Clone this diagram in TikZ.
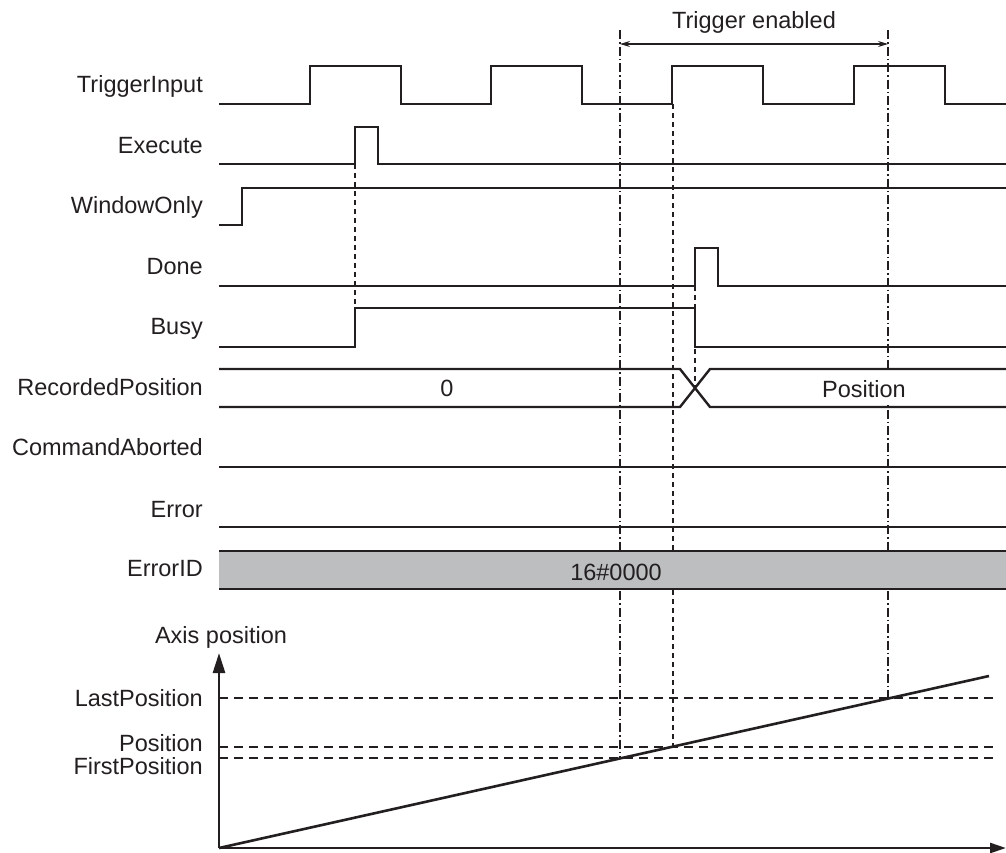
\documentclass[tikz,border=0pt]{standalone}
\usepackage{fontspec}
\setmainfont{Liberation Sans}
\usetikzlibrary{arrows.meta,positioning,calc}
\definecolor{tcInk}{HTML}{231F20}
\definecolor{tcGrey}{HTML}{BCBEC0}

\begin{document}
\begin{tikzpicture}[x=1pt,y=-1pt,color=tcInk,
    font=\fontsize{23.5}{28}\selectfont,
    sig/.style={line width=2.4pt,line join=miter},
    lbl/.style={anchor=base east,inner sep=0pt},
    val/.style={anchor=base,inner sep=0pt},
    guide/.style={line width=1.1pt,dash pattern=on 5pt off 4pt},
    dashdot/.style={line width=1.1pt,dash pattern=on 9pt off 3pt on 1.5pt off 3pt},
    level/.style={line width=1.1pt,dash pattern=on 9pt off 6pt},
    axis/.style={line width=2.6pt}]
  \useasboundingbox (0,0) rectangle (1006,852);

  % signal names
  \node[lbl] (trg)  at (203,92)  {TriggerInput};
  \node[lbl] (exe)  at (203,153) {Execute};
  \node[lbl] (win)  at (203,213) {WindowOnly};
  \node[lbl] (done) at (203,274) {Done};
  \node[lbl] (busy) at (203,334) {Busy};
  \node[lbl] (rec)  at (203,395) {RecordedPosition};
  \node[lbl] (abt)  at (203,455) {CommandAborted};
  \node[lbl] (err)  at (203,517) {Error};
  \node[lbl] (eid)  at (203,576) {ErrorID};

  % key instants
  \coordinate (tOn)    at (620,30);
  \coordinate (tOff)   at (888,30);
  \coordinate (org)    at (219,848);
  \coordinate (pFirst) at (620,758);
  \coordinate (pRec)   at (673,747);
  \coordinate (pLast)  at (888,698);

  % guide lines
  \draw[guide] (355,164) -- (355,308);
  \draw[guide] (673,104) -- (pRec);
  \draw[guide] (695,286) -- (695,388);
  \draw[dashdot] (tOn) -- (pFirst);
  \draw[dashdot] (tOff) -- (pLast);
  \draw[line width=1.1pt,{Stealth[length=10pt,width=6pt]}-{Stealth[length=10pt,width=6pt]}]
    (620,44) -- (888,44);
  \node[val] (ten) at (754,28) {Trigger enabled};

  % waveforms
  \draw[sig] (219,104) -| (310,66) -| (401,104) -| (491,66) -| (582,104)
    -| (672,66) -| (763,104) -| (854,66) -| (945,104) -- (1006,104);
  \draw[sig] (219,164) -| (355,127) -| (378,164) -- (1006,164);
  \draw[sig] (219,225) -| (242,188) -- (1006,188);
  \draw[sig] (219,286) -| (695,248) -| (718,286) -- (1006,286);
  \draw[sig] (219,347) -| (355,308) -| (695,347) -- (1006,347);
  \node[val] (rec0) at (447,396) {0};
  \node[val,fill=white,inner xsep=3pt,inner ysep=8pt] (recP) at (864,397) {Position};
  \draw[sig] (219,369) -- (680,369) -- (710,407) -- (1006,407)
             (219,407) -- (680,407) -- (710,369) -- (1006,369);
  \draw[sig] (219,467) -- (1006,467);
  \draw[sig] (219,527) -- (1006,527);
  \fill[tcGrey] (219,551) rectangle (1006,589);
  \draw[sig] (219,551) -- (1006,551) (219,589) -- (1006,589);
  \node[val] (eid0) at (616,580) {16\#0000};

  % axis position
  \node[val] (ylab) at (221,643) {Axis position};
  \draw[level] (219,698) -- (998,698);
  \draw[level] (219,747) -- (998,747);
  \draw[level] (219,758) -- (998,758);
  \node[lbl] (lp) at (203,706) {LastPosition};
  \node[lbl] (pp) at (203,751) {Position};
  \node[lbl] (fp) at (203,774) {FirstPosition};
  \draw[axis,-{Triangle[length=20pt,width=12pt]}] (org) -- (219,653);
  \draw[axis,-{Triangle[length=16pt,width=10pt]}] (org) -- (1006,848);
  \draw[axis] (org) -- (989,676);
\end{tikzpicture}
\end{document}
